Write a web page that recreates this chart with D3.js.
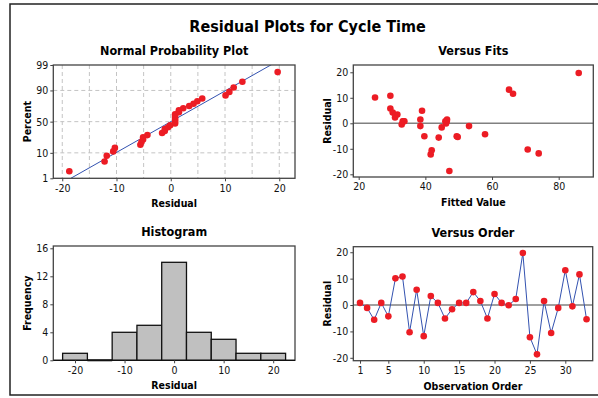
<!DOCTYPE html>
<html><head><meta charset="utf-8">
<script src="https://cdn.jsdelivr.net/npm/d3@7"></script>
<style>
html,body{margin:0;padding:0;background:#fff;}
svg{display:block;font-family:"DejaVu Sans Condensed","Liberation Sans",sans-serif;}
</style></head>
<body><svg id="c" width="598" height="398"></svg>
<script>
// ---- data ----
const observation = d3.range(1, 34);
const residuals = [0.8,-1.1,-5.6,0.8,-4.3,10.1,10.8,-10.3,5.8,-11.8,3.4,0.8,-5.1,-1.6,0.8,0.8,4.9,1.5,-5.1,4.2,0.8,-0.1,2.3,19.7,-12.2,-18.7,1.5,-10.6,-1.1,13.2,-0.5,11.6,-5.4];
const fitted = [33.5,38.5,44.0,33.2,57.9,24.9,29.5,70.7,29.5,74.0,31.6,46.3,49.4,44.9,46.0,33.7,39.0,38.5,39.7,30.2,46.4,46.2,30.9,86.0,41.6,47.2,46.5,41.9,53.1,65.1,32.9,66.3,49.7];
const histBinCenters = [-20,-15,-10,-5,0,5,10,15,20];
const histCounts = [1,0,4,5,14,4,3,1,1];
const probTicks = [1,10,50,90,99];
const probGridPct = [10,50,90];
const residTicks = [-20,-10,0,10,20];
const residGrid = [-20,-15,-10,-5,0,5,10,15,20];
const fitTicks = [20,40,60,80];
const freqTicks = [0,4,8,12,16];
const orderTicks = [1,5,10,15,20,25,30];
const titles = {main:"Residual Plots for Cycle Time", p1:"Normal Probability Plot", p2:"Versus Fits", p3:"Histogram", p4:"Versus Order"};

const RED = "#ec1c24", BLUE = "#3352b0", BOX = "#444";
const svg = d3.select("#c");

// outer frame
svg.append("rect").attr("x",10).attr("y",4).attr("width",620).attr("height",391)
  .attr("fill","none").attr("stroke","#222").attr("stroke-width",1.5);
svg.append("text").attr("x",307.5).attr("y",31.5).attr("text-anchor","middle")
  .attr("font-size",16).attr("font-weight","bold").text(titles.main);

function panel(box, title, xlab, ylab){
  const g = svg.append("g");
  g.append("text").attr("x",(box.x0+box.x1)/2).attr("y",box.y0-10).attr("text-anchor","middle")
    .attr("font-size",12.5).attr("font-weight","bold").text(title);
  g.append("text").attr("x",(box.x0+box.x1)/2).attr("y",box.y1+29).attr("text-anchor","middle")
    .attr("font-size",10.5).attr("font-weight","bold").text(xlab);
  g.append("text").attr("transform",`translate(${box.x0-22},${(box.y0+box.y1)/2}) rotate(-90)`)
    .attr("text-anchor","middle").attr("font-size",10.5).attr("font-weight","bold").text(ylab);
  return g;
}
function frame(g, box){
  g.append("rect").attr("x",box.x0).attr("y",box.y0).attr("width",box.x1-box.x0).attr("height",box.y1-box.y0)
    .attr("fill","none").attr("stroke",BOX).attr("stroke-width",1.3);
}
function axes(g, box, xs, ys, xt, yt, yfmt){
  const ax = g.append("g").attr("transform",`translate(0,${box.y1})`)
    .call(d3.axisBottom(xs).tickValues(xt).tickSize(3).tickPadding(3).tickFormat(d=>d));
  const ay = g.append("g").attr("transform",`translate(${box.x0},0)`)
    .call(d3.axisLeft(ys).tickValues(yt).tickSize(3).tickPadding(2).tickFormat(yfmt||(d=>d)));
  [ax,ay].forEach(a=>{
    a.select(".domain").remove();
    a.selectAll("line").attr("stroke",BOX);
    a.selectAll("text").attr("font-size",10.5).attr("fill","#111").attr("font-family","DejaVu Sans Condensed, Liberation Sans, sans-serif");
  });
}

// ---- Panel 1: normal probability ----
{
  const box = {x0:53.3,x1:295,y0:65,y1:178.3};
  const g = panel(box, titles.p1, "Residual", "Percent");
  const zq = p => -Math.SQRT2 * erfcinv(2*p);
  const x = d3.scaleLinear().domain([-21.65,22.9]).range([box.x0,box.x1]);
  const y = d3.scaleLinear().domain([zq(0.01),zq(0.99)]).range([box.y1,box.y0]);
  // grid
  g.selectAll(".vg").data(residGrid).join("line").attr("x1",d=>x(d)).attr("x2",d=>x(d))
    .attr("y1",box.y0).attr("y2",box.y1).attr("stroke","#c4c4c4").attr("stroke-dasharray","4,3");
  g.selectAll(".hg").data(probGridPct).join("line").attr("y1",d=>y(zq(d/100))).attr("y2",d=>y(zq(d/100)))
    .attr("x1",box.x0).attr("x2",box.x1).attr("stroke","#c4c4c4").attr("stroke-dasharray","4,3");
  const n = residuals.length;
  const sorted = residuals.slice().sort((a,b)=>a-b);
  const mean = d3.mean(residuals), sd = d3.deviation(residuals);
  g.append("clipPath").attr("id","cp1").append("rect")
    .attr("x",box.x0).attr("y",box.y0).attr("width",box.x1-box.x0).attr("height",box.y1-box.y0);
  const zs = [zq(0.01), 2.6];
  g.append("line").attr("clip-path","url(#cp1)")
    .attr("x1",x(mean+zs[0]*sd)).attr("y1",y(zs[0])).attr("x2",x(mean+zs[1]*sd)).attr("y2",y(zs[1]))
    .attr("stroke",BLUE).attr("stroke-width",1);
  g.selectAll("circle").data(sorted).join("circle")
    .attr("cx",d=>x(d)).attr("cy",(d,i)=>y(zq((i+1-0.3)/(n+0.4)))).attr("r",3.3).attr("fill",RED);
  frame(g,box);
  axes(g,box,x,y,residTicks,probTicks.map(p=>zq(p/100)),(d)=>Math.round(100*normcdf(d)));
}
// ---- Panel 2: versus fits ----
{
  const box = {x0:353.3,x1:593.3,y0:65,y1:177};
  const g = panel(box, titles.p2, "Fitted Value", "Residual");
  const x = d3.scaleLinear().domain([18.38,90.38]).range([box.x0,box.x1]);
  const y = d3.scaleLinear().domain([-21.06,22.86]).range([box.y1,box.y0]);
  g.append("line").attr("x1",box.x0).attr("x2",box.x1).attr("y1",y(0)).attr("y2",y(0))
    .attr("stroke","#808080").attr("stroke-width",1.6);
  g.selectAll("circle").data(fitted).join("circle")
    .attr("cx",d=>x(d)).attr("cy",(d,i)=>y(residuals[i])).attr("r",3.3).attr("fill",RED);
  frame(g,box);
  axes(g,box,x,y,fitTicks,residTicks);
}
// ---- Panel 3: histogram ----
{
  const box = {x0:53.3,x1:295,y0:246,y1:360.3};
  const g = panel(box, titles.p3, "Residual", "Frequency");
  const x = d3.scaleLinear().domain([-24.38,24.4]).range([box.x0,box.x1]);
  const y = d3.scaleLinear().domain([0,16.33]).range([box.y1,box.y0]);
  frame(g,box);
  g.selectAll("rect.bar").data(histCounts).join("rect").attr("class","bar")
    .attr("x",(d,i)=>x(histBinCenters[i]-2.5)).attr("width",(d,i)=>x(histBinCenters[i]+2.5)-x(histBinCenters[i]-2.5))
    .attr("y",d=>y(d)).attr("height",d=>y(0)-y(d))
    .attr("fill","#c0c0c0").attr("stroke","#111").attr("stroke-width",1.3);
  // zero-height bins drawn as a line on the baseline
  g.selectAll("line.zb").data(histCounts.map((c,i)=>({c,i})).filter(d=>d.c===0)).join("line").attr("class","zb")
    .attr("x1",d=>x(histBinCenters[d.i]-2.5)).attr("x2",d=>x(histBinCenters[d.i]+2.5))
    .attr("y1",y(0)).attr("y2",y(0)).attr("stroke","#111").attr("stroke-width",2);
  g.append("line").attr("x1",box.x0).attr("x2",box.x1).attr("y1",y(0)).attr("y2",y(0))
    .attr("stroke","#111").attr("stroke-width",1.3);
  axes(g,box,x,y,residTicks,freqTicks);
}
// ---- Panel 4: versus order ----
{
  const box = {x0:353.3,x1:592.7,y0:246.7,y1:360.7};
  const g = panel(box, titles.p4, "Observation Order", "Residual");
  const x = d3.scaleLinear().domain([0.05,33.87]).range([box.x0,box.x1]);
  const y = d3.scaleLinear().domain([-21.1,22.1]).range([box.y1,box.y0]);
  g.append("line").attr("x1",box.x0).attr("x2",box.x1).attr("y1",y(0)).attr("y2",y(0))
    .attr("stroke","#808080").attr("stroke-width",1.6);
  g.append("path").datum(observation)
    .attr("d",d3.line().x(d=>x(d)).y((d,i)=>y(residuals[i])))
    .attr("fill","none").attr("stroke",BLUE).attr("stroke-width",1);
  g.selectAll("circle").data(observation).join("circle")
    .attr("cx",d=>x(d)).attr("cy",(d,i)=>y(residuals[i])).attr("r",3.3).attr("fill",RED);
  frame(g,box);
  axes(g,box,x,y,orderTicks,residTicks);
}

// inverse complementary error function / normal cdf helpers
function erfcinv(y){ return erfinv(1-y); }
function erfinv(x){
  const a=0.147, ln=Math.log(1-x*x), t=2/(Math.PI*a)+ln/2;
  let r=Math.sign(x)*Math.sqrt(Math.sqrt(t*t-ln/a)-t);
  for(let k=0;k<3;k++){ const e=erf(r)-x; r-=e/(2/Math.sqrt(Math.PI)*Math.exp(-r*r)); }
  return r;
}
function erf(x){
  const s=Math.sign(x); x=Math.abs(x);
  const t=1/(1+0.3275911*x);
  const y=1-(((((1.061405429*t-1.453152027)*t)+1.421413741)*t-0.284496736)*t+0.254829592)*t*Math.exp(-x*x);
  return s*y;
}
function normcdf(z){ return 0.5*(1+erf(z/Math.SQRT2)); }
</script></body></html>
